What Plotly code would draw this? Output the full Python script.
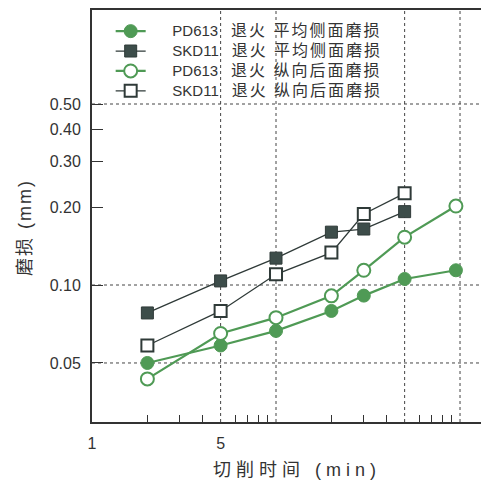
import plotly.graph_objects as go

# Data (log-log chart)
time_min = [2, 5, 10, 20, 30, 50, 95]
pd613_side = [0.050, 0.0584, 0.0665, 0.0794, 0.091, 0.1055, 0.114]
skd11_side = [0.078, 0.1037, 0.127, 0.160, 0.1645, 0.192]
pd613_flank = [0.0434, 0.065, 0.0748, 0.0908, 0.114, 0.153, 0.2018]
skd11_flank = [0.0584, 0.0794, 0.110, 0.1334, 0.188, 0.226]

steels = ["PD613", "SKD11", "PD613", "SKD11"]
treat = "退火"
kinds = ["平均侧面磨损", "平均侧面磨损", "纵向后面磨损", "纵向后面磨损"]

x_ticks = [1, 5]
x_ticktext = ["1", "5"]
x_minor = [2, 3, 4, 6, 7, 8, 9, 20, 30, 40, 60, 70, 80, 90]
x_grid = [5, 10, 50, 100]
y_ticks = [0.05, 0.10, 0.20, 0.30, 0.40, 0.50]
y_ticktext = ["0.05", "0.10", "0.20", "0.30", "0.40", "0.50"]
y_grid = [0.05, 0.10, 0.50]

x_title = "切削时间 (min)"
y_title = "磨损 (mm)"

GREEN = "#4f9a55"
DARK = "#2f3a38"
SQFILL = "#3d4d4a"
FONT = "Liberation Sans, Noto Sans CJK SC, sans-serif"
NB = "\u00a0" * 6


def legend_name(steel, kind):
    return (NB + "<span style='font-size:15px'>" + steel + "</span>"
            + "<span style='font-size:16px;letter-spacing:2px'>\u00a0\u00a0" + treat
            + " " + kind + "</span>")


fig = go.Figure()
fig.add_trace(go.Scatter(
    x=time_min, y=pd613_side, name=legend_name(steels[0], kinds[0]), mode="lines+markers",
    line=dict(color=GREEN, width=2.2),
    marker=dict(symbol="circle", size=13, color=GREEN, line=dict(color=GREEN, width=1))))
fig.add_trace(go.Scatter(
    x=time_min[:len(skd11_side)], y=skd11_side, name=legend_name(steels[1], kinds[1]),
    mode="lines+markers",
    line=dict(color=DARK, width=1.3),
    marker=dict(symbol="square", size=12, color=SQFILL, line=dict(color=DARK, width=1))))
fig.add_trace(go.Scatter(
    x=time_min, y=pd613_flank, name=legend_name(steels[2], kinds[2]), mode="lines+markers",
    line=dict(color=GREEN, width=2.2),
    marker=dict(symbol="circle", size=13, color="white", line=dict(color=GREEN, width=2))))
fig.add_trace(go.Scatter(
    x=time_min[:len(skd11_flank)], y=skd11_flank, name=legend_name(steels[3], kinds[3]),
    mode="lines+markers",
    line=dict(color=DARK, width=1.3),
    marker=dict(symbol="square", size=12, color="white", line=dict(color=DARK, width=2))))

shapes = []
for gx in x_grid:
    shapes.append(dict(type="line", xref="x", yref="paper", x0=gx, x1=gx, y0=0, y1=1,
                       line=dict(color="#444", width=1, dash="dot"), layer="below"))
for gy in y_grid:
    shapes.append(dict(type="line", xref="paper", yref="y", x0=0, x1=1, y0=gy, y1=gy,
                       line=dict(color="#444", width=1, dash="dot"), layer="below"))

annotations = [
    dict(text="<span style='letter-spacing:5px'>" + x_title + "</span>",
         xref="paper", yref="paper", x=0.527, y=-0.1165, xanchor="center", yanchor="middle",
         showarrow=False, font=dict(size=18, color="#333")),
    dict(text="<span style='letter-spacing:2px'>" + y_title + "</span>",
         xref="paper", yref="paper", x=-0.172, y=0.471, xanchor="center", yanchor="middle",
         textangle=-90, showarrow=False, font=dict(size=18, color="#333")),
]

fig.update_layout(
    width=481, height=482,
    margin=dict(l=92, r=0, t=10, b=60, autoexpand=False),
    paper_bgcolor="white", plot_bgcolor="white",
    font=dict(family=FONT, color="#333", size=15),
    shapes=shapes,
    annotations=annotations,
    showlegend=True,
    legend=dict(x=0.048, y=0.985, xanchor="left", yanchor="top",
                bgcolor="rgba(0,0,0,0)", borderwidth=0,
                font=dict(size=13, color="#333"), tracegroupgap=0, itemwidth=30),
    xaxis=dict(
        type="log", range=[0, 2.114], automargin=False,
        tickvals=x_ticks, ticktext=x_ticktext, ticks="",
        showgrid=False, zeroline=False,
        showline=True, linecolor="#333", linewidth=2, mirror=True,
        tickfont=dict(size=16, color="#333"),
        ticklabelstandoff=6,
        minor=dict(tickvals=x_minor, ticks="inside", ticklen=7, tickcolor="#333",
                   tickwidth=1, showgrid=False),
    ),
    yaxis=dict(
        type="log", range=[-1.529, 0.062], automargin=False,
        tickvals=y_ticks, ticktext=y_ticktext, ticks="inside", ticklen=11,
        tickcolor="#333", tickwidth=1,
        showgrid=False, zeroline=False,
        showline=True, linecolor="#333", linewidth=2,
        tickfont=dict(size=16, color="#333"),
        ticklabelstandoff=6,
    ),
)

fig.write_html("out.html",
               config={"displayModeBar": False},
               post_script="document.body.style.margin='0';document.body.style.overflow='hidden';")
